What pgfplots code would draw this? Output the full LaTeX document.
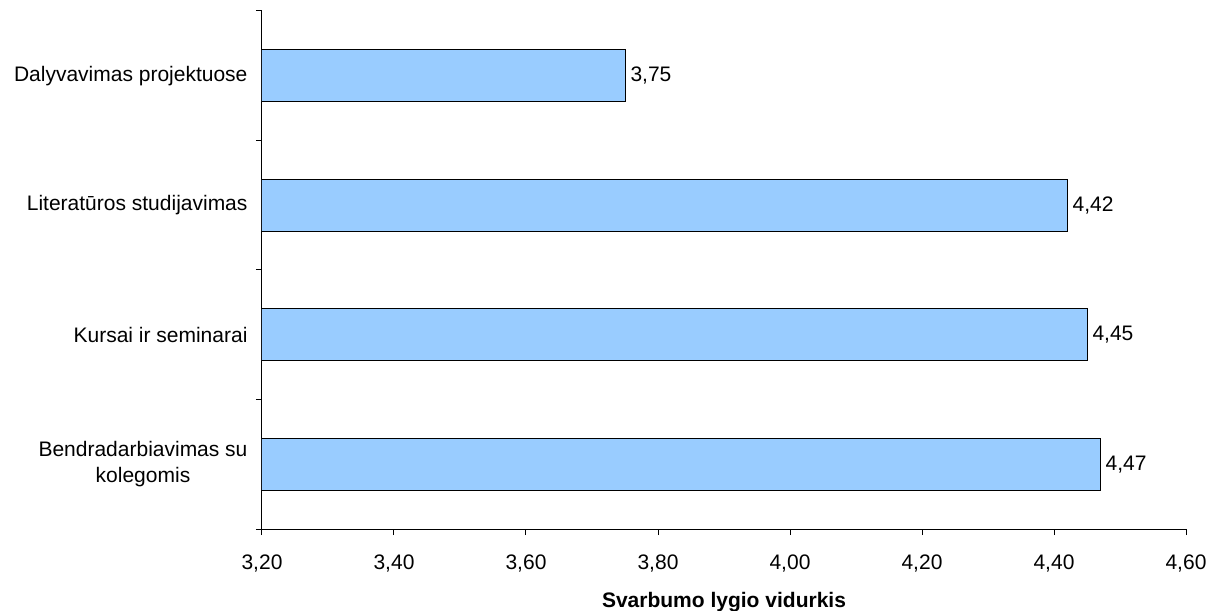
\documentclass[border=0pt]{standalone}
\usepackage{fontspec}
\setmainfont{Liberation Sans}
\usepackage{pgfplots}
\pgfplotsset{compat=1.18}
\definecolor{barblue}{HTML}{99CCFF}
\begin{document}
\begin{tikzpicture}[font=\fontsize{21bp}{26bp}\selectfont]
\begin{axis}[
  at={(0,0)}, anchor=south west,
  scale only axis, width=924bp, height=518bp,
  xbar, bar width=0.4,
  xmin=3.2, xmax=4.6, ymin=-0.5, ymax=3.5,
  xtick={3.2,3.4,3.6,3.8,4.0,4.2,4.4,4.6},
  axis x line*=bottom, axis y line*=left,
  axis line style={line width=1bp},
  tick align=outside, major tick length=6bp,
  tick style={line width=1bp, black},
  ytick={-0.5,0.5,1.5,2.5,3.5}, yticklabels={},
  extra y ticks={0,1,2,3},
  extra y tick labels={{Bendradarbiavimas su\\kolegomis},{Kursai ir seminarai},{Literatūros studijavimas},{Dalyvavimas projektuose}},
  extra y tick style={tick style={draw=none}},
  yticklabel style={align=center, anchor=east, xshift=-5bp},
  xticklabel style={anchor=center, yshift=-29bp},
  /pgf/number format/.cd, use comma, fixed, fixed zerofill, precision=2, assume math mode=true,
  /pgfplots/.cd,
  xlabel={\bfseries Svarbumo lygio vidurkis},
  xlabel style={at={(axis description cs:0.5,0)}, anchor=center, yshift=-73bp},
  nodes near coords,
  nodes near coords style={anchor=west, inner sep=5bp},
]
\addplot[fill=barblue, draw=black, line width=1bp] coordinates {(4.47,0) (4.45,1) (4.42,2) (3.75,3)};
\end{axis}
\pgfresetboundingbox
\path (-262bp,-82bp) rectangle (963bp,529bp);
\end{tikzpicture}
\end{document}
